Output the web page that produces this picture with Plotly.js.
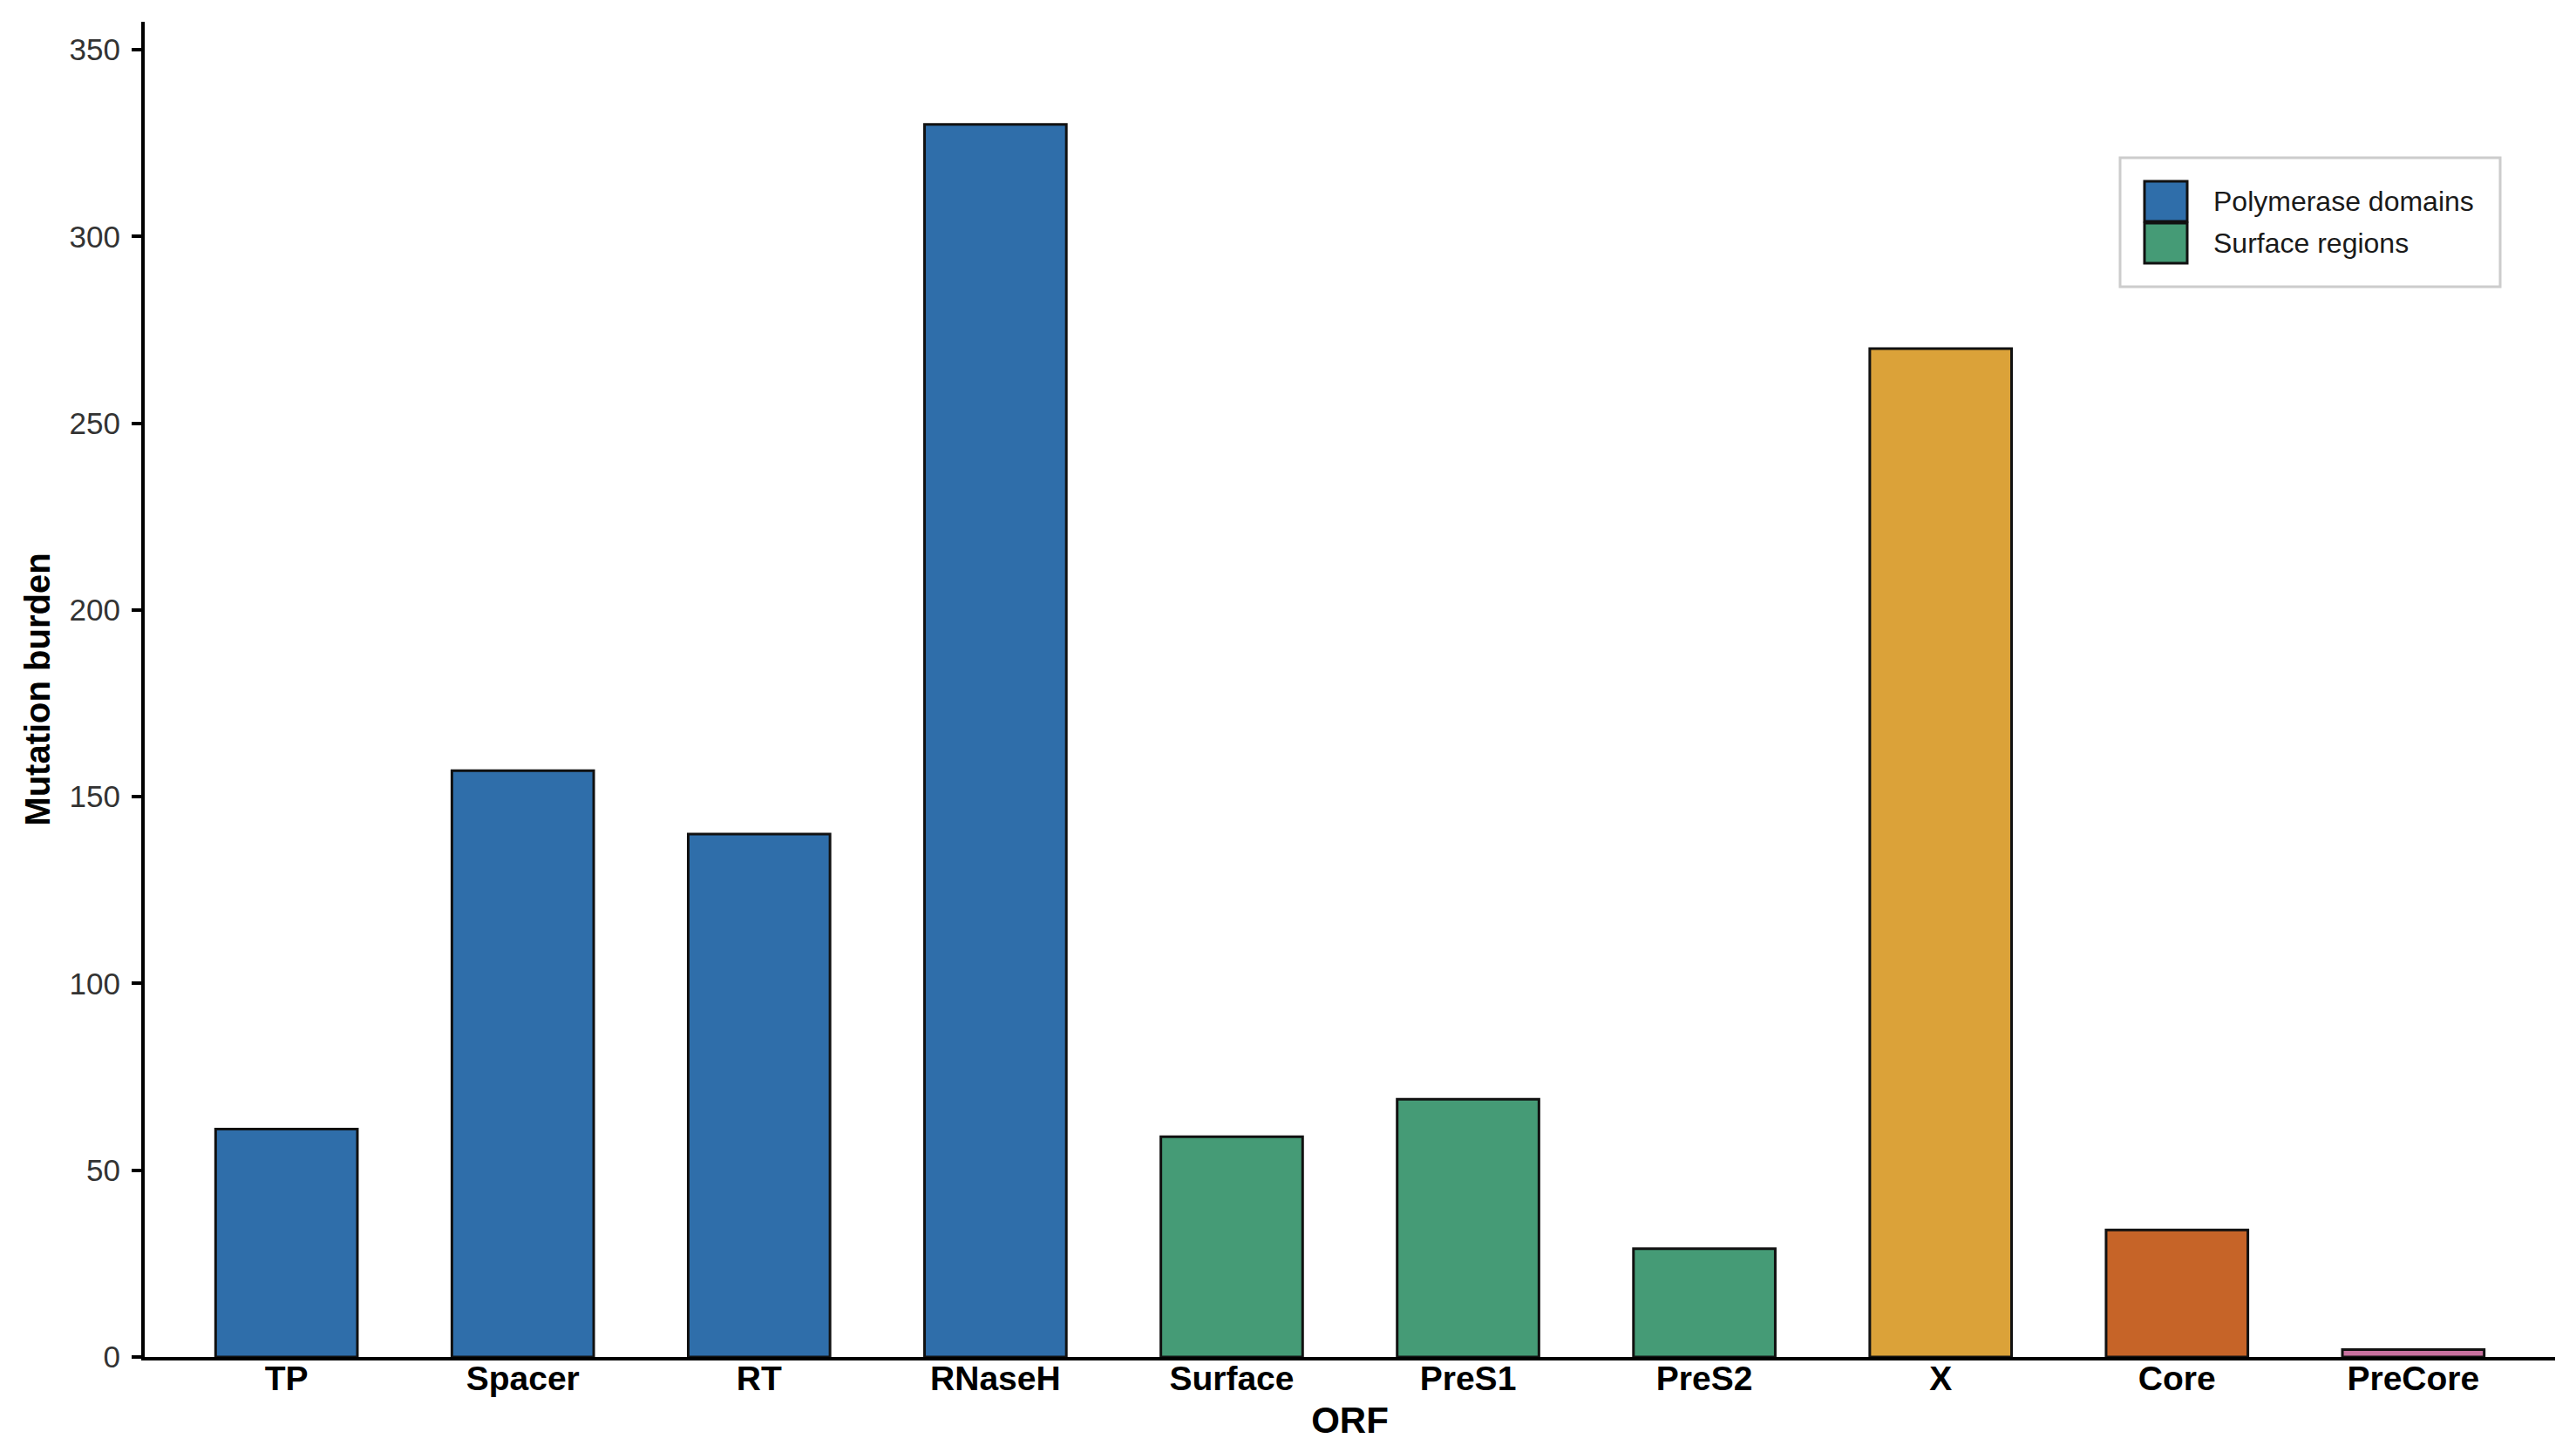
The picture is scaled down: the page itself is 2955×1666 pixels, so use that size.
<!DOCTYPE html>
<html>
<head>
<meta charset="utf-8">
<script src="https://cdn.plot.ly/plotly-3.0.1.min.js"></script>
<style>html,body{margin:0;padding:0;background:#fff;}#chart{width:2955px;height:1666px;}</style>
</head>
<body>
<div id="chart"></div>
<script>
// ---- data ----
const categories = ["TP","Spacer","RT","RNaseH","Surface","PreS1","PreS2","X","Core","PreCore"];
const mutationBurden = [61, 157, 140, 330, 59, 69, 29, 270, 34, 2];
const groups = ["Polymerase domains","Polymerase domains","Polymerase domains","Polymerase domains",
                "Surface regions","Surface regions","Surface regions","X","Core","PreCore"];
const groupNames = ["Polymerase domains","Surface regions","X","Core","PreCore"];
const groupColors = ["#2F6EAA","#459B76","#DBA239","#C66428","#C8719F"];
const legendGroups = ["Polymerase domains","Surface regions"];
const yTicks = [0, 50, 100, 150, 200, 250, 300, 350];

// ---- layout geometry (pixels) ----
const W = 2955, H = 1666;
const M = {l: 166, r: 24, t: 25, b: 109};
const plotW = W - M.l - M.r, plotH = H - M.t - M.b;
const px = x => (x - M.l) / plotW;
const py = y => (H - M.b - y) / plotH;

const traces = groupNames.map((g, gi) => {
  const xs = [], ys = [];
  categories.forEach((c, i) => { if (groups[i] === g) { xs.push(c); ys.push(mutationBurden[i]); } });
  return {
    type: 'bar', name: g, x: xs, y: ys, width: 0.6, showlegend: false,
    marker: {color: groupColors[gi], line: {color: '#111111', width: 3}},
    hoverinfo: 'x+y'
  };
});

// manual legend (large key boxes like the reference)
const shapes = [];
const annotations = [];
shapes.push({type: 'rect', xref: 'paper', yref: 'paper',
  x0: px(2432), x1: px(2868), y0: py(329), y1: py(181),
  line: {color: '#CCCCCC', width: 3}, fillcolor: '#FFFFFF', layer: 'above'});
legendGroups.forEach((g, i) => {
  const top = 208 + i * 48;
  const col = groupColors[groupNames.indexOf(g)];
  shapes.push({type: 'rect', xref: 'paper', yref: 'paper',
    x0: px(2460), x1: px(2509), y0: py(top + 46), y1: py(top),
    line: {color: '#111111', width: 3}, fillcolor: col, layer: 'above'});
  annotations.push({xref: 'paper', yref: 'paper', x: px(2537), y: py(top + 23),
    xanchor: 'left', yanchor: 'middle', showarrow: false, text: g,
    font: {family: 'Liberation Sans, Arial, sans-serif', size: 32, color: '#1A1A1A'}});
});

const layout = {
  width: W, height: H,
  margin: M,
  paper_bgcolor: '#FFFFFF', plot_bgcolor: '#FFFFFF',
  bargap: 0.4,
  font: {family: 'Liberation Sans, Arial, sans-serif', color: '#000'},
  xaxis: {
    type: 'category', categoryorder: 'array', categoryarray: categories,
    range: [-0.6, categories.length - 0.4],
    showline: true, linecolor: '#000', linewidth: 4, ticks: '', showgrid: false, zeroline: false,
    tickfont: {size: 39, color: '#000', weight: 700},
    ticklabelstandoff: -13,
    title: {text: 'ORF', font: {size: 42, color: '#000', weight: 700}, standoff: 14}
  },
  yaxis: {
    range: [0, 357.5], tickvals: yTicks, ticktext: yTicks.map(String),
    showline: true, linecolor: '#000', linewidth: 4, ticks: 'outside', ticklen: 11, tickwidth: 4, tickcolor: '#000',
    showgrid: false, zeroline: false,
    tickfont: {size: 35, color: '#333333'},
    ticklabelstandoff: 6,
    title: {text: 'Mutation burden', font: {size: 40, color: '#000', weight: 700}, standoff: 11}
  },
  shapes: shapes,
  annotations: annotations
};

Plotly.newPlot('chart', traces, layout, {displayModeBar: false, staticPlot: true});
</script>
</body>
</html>
